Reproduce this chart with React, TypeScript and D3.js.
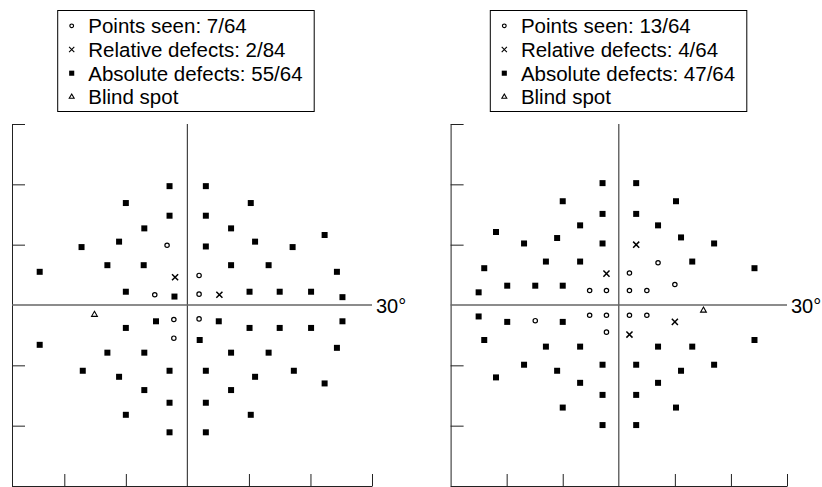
import React, { useRef, useEffect } from "react";
import * as d3 from "d3";

type Pt = [number, number];

// tick positions in degrees
const yTicks = [30, 20, 10, -10, -20, -30];
const xTicks = [-20, -10, 10, 20, 30];

// left field
const leftLegend = ["Points seen: 7/64", "Relative defects: 2/84", "Absolute defects: 55/64", "Blind spot"];
const leftSeen: Pt[] = [[-3.3, 9.9], [-5.3, 1.7], [1.9, 4.9], [1.9, 1.8], [-2.2, -2.4], [-2.2, -5.5], [1.9, -2.3]];
const leftRelative: Pt[] = [[-2.0, 4.6], [5.2, 1.7]];
const leftBlind: Pt[] = [[-15.1, -1.6]];
const leftAbsolute: Pt[] = [
  [-2.9, 19.7], [-10.0, 16.9], [-2.9, 14.8], [-7.0, 12.7], [-11.1, 10.5], [-17.2, 9.6], [-13.0, 6.6], [-7.1, 6.6],
  [-24.0, 5.5], [-10.0, 2.2], [-2.1, 1.4],
  [3.0, 19.7], [10.3, 16.9], [3.0, 14.8], [7.1, 12.7], [11.0, 10.5], [22.3, 11.6], [3.0, 9.7], [17.1, 9.6],
  [7.1, 6.6], [13.2, 6.6], [24.3, 5.5], [10.1, 2.2], [15.0, 2.2], [20.1, 2.2], [25.2, 1.3],
  [-5.1, -2.7], [-10.0, -3.8], [-24.0, -6.6], [-13.0, -7.9], [-7.0, -7.9], [-17.0, -10.9], [-11.1, -11.9],
  [-2.9, -10.9], [-7.0, -14.1], [-2.9, -16.2], [-10.0, -18.2], [-2.9, -21.1],
  [5.1, -2.7], [10.1, -3.8], [15.0, -3.8], [20.1, -3.8], [25.2, -2.7], [2.0, -5.8], [7.1, -7.9], [13.2, -7.9],
  [24.3, -7.1], [3.0, -10.9], [11.0, -11.9], [17.3, -10.9], [22.3, -13.0], [7.1, -14.1], [3.0, -16.2],
  [10.3, -18.2], [3.0, -21.1],
];

// right field
const rightLegend = ["Points seen: 13/64", "Relative defects: 4/64", "Absolute defects: 47/64", "Blind spot"];
const rightSeen: Pt[] = [
  [-5.2, 2.4], [-2.2, 2.4], [-14.9, -2.6], [-5.2, -1.7], [-2.2, -1.7], [-2.2, -4.5], [7.0, 7.0],
  [1.9, 5.3], [1.9, 2.4], [5.0, 2.4], [10.0, 3.4], [1.9, -1.7], [5.0, -1.7],
];
const rightRelative: Pt[] = [[-2.2, 5.2], [3.1, 10.0], [10.0, -2.8], [1.9, -4.9]];
const rightBlind: Pt[] = [[15.1, -0.9]];
const rightAbsolute: Pt[] = [
  [-2.9, 20.2], [-10.0, 17.2], [-2.9, 15.1], [-6.9, 13.2], [-21.9, 12.1], [-11.0, 11.1], [-16.9, 10.2],
  [-2.9, 10.2], [-13.0, 7.2], [-6.9, 7.2], [-24.0, 6.1], [-19.9, 3.2], [-14.9, 3.2], [-10.0, 3.2], [-25.0, 2.1],
  [-25.0, -1.9], [-19.9, -2.8], [-10.0, -2.8], [-24.0, -5.8], [-13.0, -6.9], [-6.9, -6.9], [-16.9, -9.9],
  [-2.9, -9.9], [-21.9, -12.0], [-11.0, -10.9], [-6.9, -12.9], [-2.9, -14.9], [-10.0, -17.0], [-2.9, -19.9],
  [3.1, 20.2], [10.2, 17.2], [3.1, 15.1], [7.0, 13.2], [11.1, 11.2], [17.0, 10.2], [13.1, 7.2], [24.2, 6.1],
  [7.0, -6.9], [13.1, -6.9], [24.2, -5.8], [3.1, -9.9], [11.1, -10.9], [17.0, -9.9], [7.0, -12.9],
  [3.1, -14.9], [10.2, -17.0], [3.1, -19.9],
];

const FONT = "'Liberation Sans', Arial, sans-serif";

const symSeen = d3.symbol(d3.symbolCircle, 15)();
const symRel = d3.symbol(d3.symbolTimes, 26)();
const symAbs = d3.symbol(d3.symbolSquare, 36)();
const symBlind = d3.symbol(d3.symbolTriangle2, 24)();

function drawMarks(g: any, data: Pt[], d: string | null, filled: boolean, x: any, y: any, sw = 1.2) {
  g.append("g")
    .selectAll("path")
    .data(data)
    .join("path")
    .attr("transform", (p: Pt) => `translate(${x(p[0])},${y(p[1])})`)
    .attr("d", d)
    .attr("fill", filled ? "#000" : "none")
    .attr("stroke", filled ? "none" : "#000")
    .attr("stroke-width", sw);
}

function Panel(props: {
  xDomain: [number, number];
  xRange: [number, number];
  legendX: number;
  legend: string[];
  seen: Pt[];
  relative: Pt[];
  absolute: Pt[];
  blind: Pt[];
}) {
  const gRef = useRef<SVGGElement>(null);

  useEffect(() => {
    const { xDomain, xRange, legendX, legend, seen, relative, absolute, blind } = props;
    const g = d3.select(gRef.current);
    g.selectAll("*").remove();

    const x = d3.scaleLinear().domain(xDomain).range(xRange);
    const y = d3.scaleLinear().domain([-30, 30]).range([486, 124]);

    // frame axes, ticks pointing inwards, no labels
    g.append("g")
      .attr("transform", `translate(${xRange[0]},0)`)
      .attr("color", "#222")
      .call(d3.axisLeft(y).tickValues(yTicks).tickSize(-13).tickSizeOuter(0).tickFormat(() => ""));
    g.append("g")
      .attr("transform", `translate(0,${y(-30)})`)
      .attr("color", "#222")
      .call(d3.axisBottom(x).tickValues(xTicks).tickSize(-12).tickSizeOuter(0).tickFormat(() => ""));

    // cross hairs
    g.append("line")
      .attr("x1", x(0)).attr("x2", x(0))
      .attr("y1", y(30)).attr("y2", y(-30))
      .attr("stroke", "#444").attr("stroke-width", 1.2);
    g.append("line")
      .attr("x1", xRange[0]).attr("x2", x(30))
      .attr("y1", y(0)).attr("y2", y(0))
      .attr("stroke", "#666").attr("stroke-width", 1.4);
    g.append("text")
      .attr("x", x(30) + 4).attr("y", y(0) + 8)
      .attr("font-family", FONT).attr("font-size", 20)
      .text("30°");

    drawMarks(g, absolute, symAbs, true, x, y);
    drawMarks(g, seen, symSeen, false, x, y, 1.2);
    drawMarks(g, relative, symRel, false, x, y, 1.5);
    drawMarks(g, blind, symBlind, false, x, y, 1.1);

    // legend
    const lg = g.append("g");
    lg.append("rect")
      .attr("x", legendX).attr("y", 10.5)
      .attr("width", 256.5).attr("height", 101)
      .attr("fill", "#fff").attr("stroke", "#000").attr("stroke-width", 1);
    const syms = [symSeen, symRel, symAbs, symBlind];
    legend.forEach((label, i) => {
      const base = 33.3 + i * 23.7;
      lg.append("path")
        .attr("transform", `translate(${legendX + 14},${base - 7.5}) scale(0.85)`)
        .attr("d", syms[i])
        .attr("fill", i === 2 ? "#000" : "none")
        .attr("stroke", i === 2 ? "none" : "#000")
        .attr("stroke-width", 1.3);
      lg.append("text")
        .attr("x", legendX + 30.6).attr("y", base)
        .attr("font-family", FONT).attr("font-size", 20.5)
        .text(label);
    });
  }, []);

  return <g ref={gRef} />;
}

export default function App() {
  return (
    <svg width={822} height={487} style={{ position: "absolute", left: 0, top: 0, background: "#fff" }}>
      <Panel
        xDomain={[-28.5, 30]}
        xRange={[12, 372]}
        legendX={57.7}
        legend={leftLegend}
        seen={leftSeen}
        relative={leftRelative}
        absolute={leftAbsolute}
        blind={leftBlind}
      />
      <Panel
        xDomain={[-30, 30]}
        xRange={[450.6, 787]}
        legendX={490.3}
        legend={rightLegend}
        seen={rightSeen}
        relative={rightRelative}
        absolute={rightAbsolute}
        blind={rightBlind}
      />
    </svg>
  );
}
